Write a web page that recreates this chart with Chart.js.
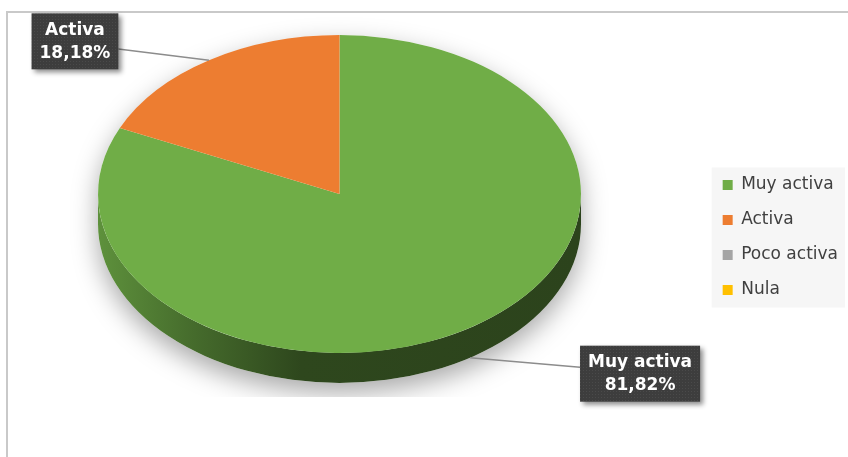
<!DOCTYPE html>
<html>
<head>
<meta charset="utf-8">
<script src="https://cdn.jsdelivr.net/npm/chart.js@4"></script>
<style>
  html, body { margin: 0; padding: 0; background: #fff; overflow: hidden; }
  #frame { position: absolute; left: 6px; top: 11px; width: 900px; height: 500px; border: 2px solid #c9c9c9; }
  #wrap { position: absolute; left: 0; top: 0; width: 848px; height: 457px; }
</style>
</head>
<body>
<div id="frame"></div>
<div id="wrap"><canvas id="myChart" width="848" height="457"></canvas></div>
<script>
// categorías y porcentajes
const categories = ["Muy activa", "Activa", "Poco activa", "Nula"];
const percentages = [81.82, 18.18, 0, 0];
const sliceColors = ["#70AD47", "#ED7D31", "#A5A5A5", "#FFC000"];

function formatPct(v) {
    return v.toFixed(2).replace('.', ',') + '%';
}

// oscurecer un color hex
function shade(hex, f) {
    const n = parseInt(hex.slice(1), 16);
    const r = Math.round(((n >> 16) & 255) * f);
    const g = Math.round(((n >> 8) & 255) * f);
    const b = Math.round((n & 255) * f);
    return `rgb(${r},${g},${b})`;
}

// textura punteada de las etiquetas
function dotPattern(ctx) {
    const c = document.createElement('canvas');
    c.width = 3; c.height = 3;
    const p = c.getContext('2d');
    p.fillStyle = '#3d3d3d';
    p.fillRect(0, 0, 3, 3);
    p.fillStyle = '#4a4a4a';
    p.fillRect(1, 1, 1, 1);
    return ctx.createPattern(c, 'repeat');
}

// pastel inclinado con grosor, sombra y etiquetas
const pie3d = {
    id: 'pie3d',
    geometry(chart) {
        const o = chart.options.plugins.pie3d;
        const first = chart.getDatasetMeta(0).data[0];
        const r = first.outerRadius;
        return { cx: o.centerX, cy: o.centerY, rx: r, ry: r * o.ratio, k: o.ratio, depth: o.depth, ox: first.x, oy: first.y };
    },
    beforeDraw(chart) {
        const lg = chart.legend;
        if (!lg || !lg.legendHitBoxes || !lg.legendHitBoxes.length) return;
        const hb = lg.legendHitBoxes;
        const ctx = chart.ctx;
        const left = Math.min(...hb.map(h => h.left)) - 11;
        const top = Math.min(...hb.map(h => h.top)) - 9;
        const bottom = Math.max(...hb.map(h => h.top + h.height)) + 9;
        ctx.save();
        ctx.fillStyle = '#f6f6f6';
        ctx.fillRect(left, top, chart.width - 3 - left, bottom - top);
        ctx.restore();
    },
    beforeDatasetsDraw(chart) {
        const g = this.geometry(chart);
        const o = chart.options.plugins.pie3d;
        const ctx = chart.ctx;
        const arcs = chart.getDatasetMeta(0).data;

        // sombra bajo el pastel
        ctx.save();
        ctx.beginPath();
        ctx.rect(0, 0, chart.width, o.shadowClip);
        ctx.clip();
        ctx.shadowColor = 'rgba(0,0,0,0.34)';
        ctx.shadowBlur = 26;
        ctx.shadowOffsetY = 10;
        ctx.fillStyle = '#fff';
        ctx.beginPath();
        ctx.ellipse(g.cx, g.cy, g.rx, g.ry, 0, Math.PI, 2 * Math.PI);
        ctx.lineTo(g.cx + g.rx, g.cy + g.depth);
        ctx.ellipse(g.cx, g.cy + g.depth, g.rx, g.ry, 0, 0, Math.PI);
        ctx.closePath();
        ctx.fill();
        ctx.restore();

        // paredes laterales visibles (mitad delantera)
        arcs.forEach((arc, i) => {
            if (!percentages[i]) return;
            const { startAngle, endAngle } = arc.getProps(['startAngle', 'endAngle'], true);
            for (const base of [0, 2 * Math.PI]) {
                const a = Math.max(startAngle, base);
                const b = Math.min(endAngle, base + Math.PI);
                if (b <= a) continue;
                const grad = ctx.createLinearGradient(g.cx - g.rx, 0, g.cx + g.rx, 0);
                grad.addColorStop(0, shade(sliceColors[i], 0.84));
                grad.addColorStop(0.2, shade(sliceColors[i], 0.62));
                grad.addColorStop(0.42, shade(sliceColors[i], 0.41));
                grad.addColorStop(1, shade(sliceColors[i], 0.39));
                ctx.save();
                ctx.fillStyle = grad;
                ctx.beginPath();
                ctx.ellipse(g.cx, g.cy, g.rx, g.ry, 0, a, b);
                ctx.ellipse(g.cx, g.cy + g.depth, g.rx, g.ry, 0, b, a, true);
                ctx.closePath();
                ctx.fill();
                ctx.restore();
            }
        });

        // cara superior: aplastar el círculo en elipse
        ctx.save();
        ctx.translate(g.cx, g.cy);
        ctx.scale(1, g.k);
        ctx.translate(-g.ox, -g.oy);
    },
    afterDatasetsDraw(chart) {
        const ctx = chart.ctx;
        ctx.restore();
        const g = this.geometry(chart);
        const o = chart.options.plugins.pie3d;
        const arcs = chart.getDatasetMeta(0).data;
        const pattern = dotPattern(ctx);

        arcs.forEach((arc, i) => {
            if (!percentages[i]) return;
            const { startAngle, endAngle } = arc.getProps(['startAngle', 'endAngle'], true);
            const mid = (startAngle + endAngle) / 2;
            const front = Math.sin(mid) > 0;
            const ax = g.cx + g.rx * Math.cos(mid);
            const ay = g.cy + g.ry * Math.sin(mid) + (front ? g.depth : 0);
            const off = o.labelOffsets[i];
            const bx = ax + off[0];
            const by = ay + off[1];

            const lines = [categories[i], formatPct(percentages[i])];
            ctx.save();
            ctx.font = 'bold 17px "DejaVu Sans"';
            const w = Math.max(...lines.map(t => ctx.measureText(t).width)) + 16;
            const h = 56;
            const left = bx - w / 2;
            const top = by - h / 2;

            // línea guía
            const ex = off[0] > 0 ? left : left + w;
            const ey = by + (ay - by) * 0.4;
            ctx.strokeStyle = '#8c8c8c';
            ctx.lineWidth = 1.5;
            ctx.beginPath();
            ctx.moveTo(ax, ay);
            ctx.lineTo(ex, ey);
            ctx.stroke();

            // caja oscura con sombra
            ctx.shadowColor = 'rgba(0,0,0,0.45)';
            ctx.shadowBlur = 5;
            ctx.shadowOffsetX = 3;
            ctx.shadowOffsetY = 3;
            ctx.fillStyle = pattern;
            ctx.fillRect(left, top, w, h);
            ctx.shadowColor = 'transparent';

            ctx.fillStyle = '#ffffff';
            ctx.textAlign = 'center';
            ctx.textBaseline = 'middle';
            ctx.fillText(lines[0], bx, by - 11);
            ctx.fillText(lines[1], bx, by + 12);
            ctx.restore();
        });
    }
};

const ctx = document.getElementById('myChart').getContext('2d');

const chart = new Chart(ctx, {
    type: 'pie',
    data: {
        labels: categories,
        datasets: [{
            data: percentages,
            backgroundColor: sliceColors,
            borderWidth: 0,
            radius: 241.5,
            clip: false
        }]
    },
    options: {
        responsive: false,
        animation: false,
        events: [],
        layout: { padding: { top: 18, bottom: 0, left: 10, right: 0 } },
        plugins: {
            legend: {
                position: 'right',
                labels: {
                    boxWidth: 10,
                    boxHeight: 10,
                    padding: 18,
                    color: '#404040',
                    font: { family: '"DejaVu Sans"', size: 17 }
                }
            },
            tooltip: { enabled: false },
            pie3d: {
                centerX: 339.5,
                centerY: 194,
                ratio: 0.658,
                depth: 30,
                shadowClip: 397,
                labelOffsets: [[170, 16], [-134, -19]]
            }
        }
    },
    plugins: [pie3d]
});
</script>
</body>
</html>
